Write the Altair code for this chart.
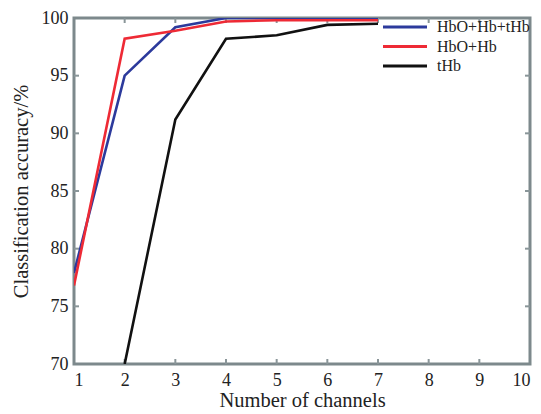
import altair as alt
import pandas as pd

channels_all = [1, 2, 3, 4, 5, 6, 7]
acc_all = [77.9, 95.0, 99.2, 100.0, 100.0, 100.0, 100.0]
channels_hbohb = [1, 2, 3, 4, 5, 6, 7]
acc_hbohb = [76.8, 98.2, 98.9, 99.7, 99.8, 99.8, 99.8]
channels_thb = [2, 3, 4, 5, 6, 7]
acc_thb = [70.0, 91.2, 98.2, 98.5, 99.4, 99.5]

series_names = ["HbO+Hb+tHb", "HbO+Hb", "tHb"]
series_colors = ["#2c3a9c", "#ee2a35", "#111111"]
x_ticks = list(range(1, 11))
y_ticks = [70, 75, 80, 85, 90, 95, 100]

rows = []
for n, xs, ys in [(series_names[0], channels_all, acc_all),
                  (series_names[1], channels_hbohb, acc_hbohb),
                  (series_names[2], channels_thb, acc_thb)]:
    for x, y in zip(xs, ys):
        rows.append({"series": n, "channels": x, "acc": y})
df = pd.DataFrame(rows)
legend_df = pd.DataFrame({"series": series_names, "idx": list(range(len(series_names)))})

W, H = 456, 346
font = "Liberation Serif"
xscale = alt.Scale(domain=[1, 10], nice=False, zero=False)
yscale = alt.Scale(domain=[70, 100], nice=False, zero=False)
cscale = alt.Scale(domain=series_names, range=series_colors)

lines = alt.Chart(df).mark_line(strokeWidth=2.6, clip=True).encode(
    x=alt.X("channels:Q", scale=xscale,
            axis=alt.Axis(values=x_ticks, title="Number of channels", grid=False,
                          ticks=False, domain=False, labelPadding=7, format="d",
                          titlePadding=1)),
    y=alt.Y("acc:Q", scale=yscale,
            axis=alt.Axis(values=y_ticks, title="Classification accuracy/%", grid=False,
                          ticks=False, domain=False, labelPadding=6, titlePadding=10)),
    color=alt.Color("series:N", scale=cscale, legend=None),
    order=alt.Order("series_order:Q"),
).transform_calculate(
    series_order="datum.series == 'tHb' ? 0 : (datum.series == 'HbO+Hb' ? 1 : 2)"
)

leg_sym = alt.Chart(legend_df).transform_calculate(
    ly="9 + datum.idx * 19.5"
).mark_rule(strokeWidth=3).encode(
    x=alt.value(309), x2=alt.value(353),
    y=alt.Y("ly:Q", scale=None, axis=None),
    color=alt.Color("series:N", scale=cscale, legend=None),
)
leg_txt = alt.Chart(legend_df).transform_calculate(
    ly="9 + datum.idx * 19.5"
).mark_text(align="left", baseline="middle", font=font, fontSize=16, color="#222").encode(
    x=alt.value(363),
    y=alt.Y("ly:Q", scale=None, axis=None),
    text="series:N",
)

xt = pd.DataFrame({"t": x_ticks[1:-1]})
yt = pd.DataFrame({"t": y_ticks[1:-1]})
tickcol = "#8a9699"
bt = alt.Chart(xt).mark_rule(color=tickcol, strokeWidth=2).encode(
    x=alt.X("t:Q", scale=xscale), y=alt.value(H), y2=alt.value(H - 5))
tt = alt.Chart(xt).mark_rule(color=tickcol, strokeWidth=2).encode(
    x=alt.X("t:Q", scale=xscale), y=alt.value(0), y2=alt.value(5))
lt = alt.Chart(yt).mark_rule(color=tickcol, strokeWidth=2).encode(
    y=alt.Y("t:Q", scale=yscale, axis=None), x=alt.value(0), x2=alt.value(5))
rt = alt.Chart(yt).mark_rule(color=tickcol, strokeWidth=2).encode(
    y=alt.Y("t:Q", scale=yscale, axis=None), x=alt.value(W), x2=alt.value(W - 5))

chart = alt.layer(bt, tt, lt, rt, lines, leg_sym, leg_txt).resolve_scale(
    y="independent"
).properties(
    width=W, height=H,
    autosize=alt.AutoSizeParams(type="none"),
    padding={"left": 74, "top": 18, "right": 11, "bottom": 50},
    background="white",
).configure_view(
    stroke="#7d898c", strokeWidth=3
).configure_axis(
    labelFont=font, labelFontSize=18, labelColor="#222",
    titleFont=font, titleFontSize=20.5, titleColor="#222", titleFontWeight="normal",
)

chart.save("out.html", embed_options={"renderer": "svg", "actions": False})
